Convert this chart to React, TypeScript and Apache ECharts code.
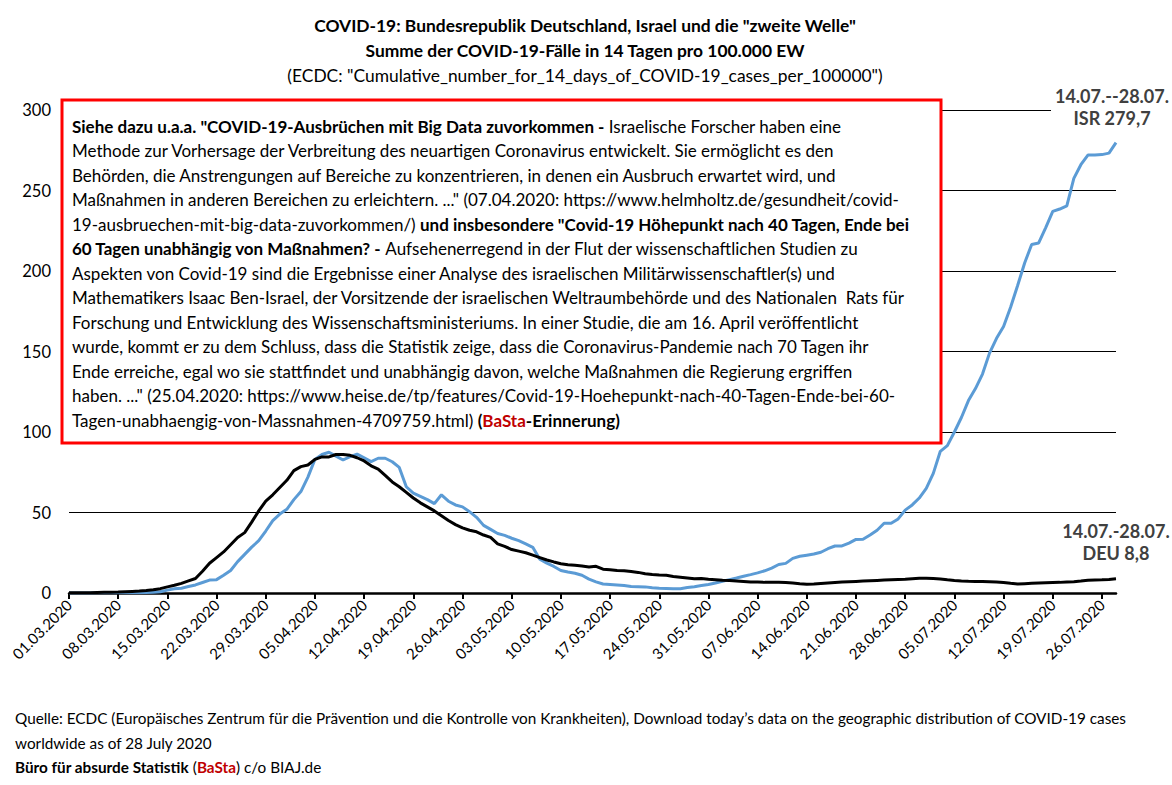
import React, { useEffect, useRef } from "react";
import * as echarts from "echarts";

const ISR = [
  0, 0, 0, 0, 0.1, 0.1, 0.1, 0.1, 0.1, 0.2,
  0.2, 0.3, 0.5, 0.8, 1.8, 2.6, 3.0, 4.0, 5.0, 6.5,
  8.0, 8.3, 11.0, 14.0, 19.5, 24.0, 28.5, 32.5, 38.5, 45.0,
  49.0, 52.0, 58.0, 63.0, 72.0, 83.0, 86.0, 87.4, 85.0, 82.6,
  84.7, 86.3, 84.0, 81.6, 83.7, 83.7, 81.5, 78.0, 66.0, 62.0,
  60.0, 58.0, 55.5, 61.0, 57.0, 54.7, 53.5, 50.5, 47.0, 42.0,
  39.5, 37.0, 35.8, 34.0, 32.5, 30.5, 28.4, 21.0, 18.5, 16.5,
  14.0, 13.0, 12.3, 11.0, 8.6, 6.9, 5.6, 5.3, 5.0, 4.6,
  4.0, 3.9, 3.8, 3.2, 2.9, 2.8, 2.7, 2.7, 3.4, 3.9,
  4.6, 5.3, 6.2, 7.3, 8.3, 9.3, 10.4, 11.4, 12.5, 13.8,
  15.5, 17.7, 18.4, 21.5, 22.8, 23.5, 24.2, 25.3, 27.5, 29.2,
  29.2, 31.0, 33.3, 33.4, 36.0, 39.0, 43.3, 43.3, 46.0, 51.5,
  54.7, 59.0, 65.0, 74.3, 88.0, 91.5, 100.0, 109.0, 119.5, 127.0,
  136.0, 149.0, 158.2, 165.5, 177.5, 191.0, 205.0, 216.5, 217.4, 227.0,
  237.0, 238.5, 240.5, 257.5, 266.0, 272.0, 272.0, 272.3, 273.2, 279.7,
];

const DEU = [
  0.1, 0.1, 0.2, 0.2, 0.3, 0.4, 0.5, 0.6, 0.8, 1.0,
  1.2, 1.5, 2.0, 2.7, 3.8, 4.8, 6.0, 7.5, 9.0, 13.5,
  18.5, 22.0, 25.5, 30.0, 34.5, 37.5, 44.0, 51.0, 57.0, 61.0,
  65.5, 70.0, 76.0, 78.5, 79.5, 83.0, 84.5, 84.5, 86.0, 86.0,
  85.5, 84.0, 82.0, 79.0, 77.0, 73.0, 69.0, 66.0, 62.5, 59.0,
  56.0, 53.5, 51.0, 48.0, 45.0, 42.5, 40.5, 39.0, 38.0, 36.0,
  34.5, 30.5, 29.0, 27.0, 26.0, 25.0, 23.5, 22.0, 20.5, 19.3,
  18.2, 17.6, 17.2, 16.8, 16.2, 16.6, 14.8, 14.5, 14.0, 13.8,
  13.3, 12.8, 12.0, 11.5, 11.2, 11.0, 10.3, 9.8, 9.3, 8.8,
  9.0, 8.5, 8.3, 7.9, 7.7, 7.5, 7.2, 6.8, 6.8, 6.6,
  6.6, 6.6, 6.5, 6.2, 5.8, 5.5, 5.6, 5.9, 6.2, 6.5,
  6.8, 7.0, 7.2, 7.4, 7.6, 7.8, 8.0, 8.2, 8.4, 8.6,
  8.9, 9.2, 9.2, 9.0, 8.7, 8.2, 7.8, 7.5, 7.3, 7.2,
  7.1, 7.0, 6.9, 6.5, 6.0, 5.6, 5.8, 6.0, 6.2, 6.4,
  6.5, 6.6, 6.8, 7.0, 7.4, 7.9, 8.1, 8.2, 8.4, 8.8,
];

const DAY_COUNT = 150;
const DATES: string[] = [];
for (let i = 0; i < DAY_COUNT; i++) {
  const d = new Date(Date.UTC(2020, 2, 1) + i * 86400000);
  const dd = String(d.getUTCDate()).padStart(2, "0");
  const mm = String(d.getUTCMonth() + 1).padStart(2, "0");
  DATES.push(`${dd}.${mm}.${d.getUTCFullYear()}`);
}

const TITLE_LINES = [
  'COVID-19: Bundesrepublik Deutschland, Israel und die "zweite Welle"',
  "Summe der COVID-19-Fälle in 14 Tagen pro 100.000 EW",
  '(ECDC: "Cumulative_number_for_14_days_of_COVID-19_cases_per_100000")',
];

const BOX_LINES = [
  '{b|Siehe dazu u.a.a. "COVID-19-Ausbrüchen mit Big Data zuvorkommen -} Israelische Forscher haben eine',
  "Methode zur Vorhersage der Verbreitung des neuartigen Coronavirus entwickelt. Sie ermöglicht es den",
  "Behörden, die Anstrengungen auf Bereiche zu konzentrieren, in denen ein Ausbruch erwartet wird, und",
  'Maßnahmen in anderen Bereichen zu erleichtern. ..." (07.04.2020: https://www.helmholtz.de/gesundheit/covid-',
  '19-ausbruechen-mit-big-data-zuvorkommen/) {b|und insbesondere "Covid-19 Höhepunkt nach 40 Tagen, Ende bei}',
  "{b|60 Tagen unabhängig von Maßnahmen? -} Aufsehenerregend in der Flut der wissenschaftlichen Studien zu",
  "Aspekten von Covid-19 sind die Ergebnisse einer Analyse des israelischen Militärwissenschaftler(s) und",
  "Mathematikers Isaac Ben-Israel, der Vorsitzende der israelischen Weltraumbehörde und des Nationalen  Rats für",
  "Forschung und Entwicklung des Wissenschaftsministeriums. In einer Studie, die am 16. April veröffentlicht",
  "wurde, kommt er zu dem Schluss, dass die Statistik zeige, dass die Coronavirus-Pandemie nach 70 Tagen ihr",
  "Ende erreiche, egal wo sie stattfindet und unabhängig davon, welche Maßnahmen die Regierung ergriffen",
  'haben. ..." (25.04.2020: https://www.heise.de/tp/features/Covid-19-Hoehepunkt-nach-40-Tagen-Ende-bei-60-',
  "Tagen-unabhaengig-von-Massnahmen-4709759.html) {b|(}{r|BaSta}{b|-Erinnerung)}",
];

const FOOTER_LINES = [
  "Quelle: ECDC (Europäisches Zentrum für die Prävention und die Kontrolle von Krankheiten), Download today’s data on the geographic distribution of COVID-19 cases",
  "worldwide as of 28 July 2020",
  "{b|Büro für absurde Statistik} ({r|BaSta}) c/o BIAJ.de",
];

const ISR_LABEL = ["14.07.--28.07.", "ISR 279,7"];
const DEU_LABEL = ["14.07.-28.07.", "DEU 8,8"];

const FONT = "Lato, Carlito, 'Open Sans', sans-serif";

function makeRich(fs: number) {
  return {
    b: { fontFamily: FONT, fontSize: fs, fontWeight: "bold", fill: "#000", color: "#000" },
    r: { fontFamily: FONT, fontSize: fs, fontWeight: "bold", fill: "#C00000", color: "#C00000" },
  };
}

export default function App() {
  const ref = useRef<HTMLDivElement>(null);

  useEffect(() => {
    document.body.style.margin = "0";
    if (!ref.current) return;
    const chart = echarts.init(ref.current, undefined, { renderer: "svg" });
    const boxFs = 17;
    const footFs = 15.3;
    const graphic: any[] = [];
    TITLE_LINES.forEach((t, i) => {
      graphic.push({
        type: "text",
        x: 585,
        y: 25 + i * 25,
        z: 20,
        style: {
          text: t,
          fontFamily: FONT,
          fontSize: 17.4,
          fontWeight: i < 2 ? "bold" : "normal",
          fill: "#000",
          align: "center",
          verticalAlign: "middle",
        },
      });
    });
    graphic.push({
      type: "rect",
      z: 10,
      shape: { x: 62, y: 100, width: 879, height: 343 },
      style: { fill: "#fff", stroke: "#FF0000", lineWidth: 3 },
    });
    BOX_LINES.forEach((t, i) => {
      graphic.push({
        type: "text",
        x: 72,
        y: 126 + i * 24.5,
        z: 20,
        style: {
          text: t,
          rich: makeRich(boxFs),
          fontFamily: FONT,
          fontSize: boxFs,
          fill: "#000",
          align: "left",
          verticalAlign: "middle",
        },
      });
    });
    FOOTER_LINES.forEach((t, i) => {
      graphic.push({
        type: "text",
        x: 15,
        y: 718 + i * 24.5,
        z: 20,
        style: {
          text: t,
          rich: makeRich(footFs),
          fontFamily: FONT,
          fontSize: footFs,
          fill: "#000",
          align: "left",
          verticalAlign: "middle",
        },
      });
    });
    graphic.push({
      type: "rect",
      z: 10,
      shape: { x: 1051, y: 84, width: 121, height: 46 },
      style: { fill: "#fff" },
    });
    ISR_LABEL.forEach((t, i) => {
      graphic.push({
        type: "text",
        x: 1112,
        y: 96 + i * 22,
        z: 20,
        style: {
          text: t,
          fontFamily: FONT,
          fontSize: 18,
          fontWeight: "bold",
          fill: "#404040",
          align: "center",
          verticalAlign: "middle",
        },
      });
    });
    DEU_LABEL.forEach((t, i) => {
      graphic.push({
        type: "text",
        x: 1116,
        y: 531 + i * 22,
        z: 20,
        style: {
          text: t,
          fontFamily: FONT,
          fontSize: 18,
          fontWeight: "bold",
          fill: "#404040",
          align: "center",
          verticalAlign: "middle",
        },
      });
    });

    chart.setOption({
      animation: false,
      grid: { left: 69, right: 56, top: 110, bottom: 192, containLabel: false },
      xAxis: {
        type: "category",
        data: DATES,
        boundaryGap: false,
        axisLine: { lineStyle: { color: "#000", width: 2.5 } },
        axisTick: { interval: 6, length: 6, lineStyle: { color: "#000", width: 2 } },
        axisLabel: {
          interval: 6,
          rotate: 45,
          margin: 9,
          fontFamily: FONT,
          fontSize: 15,
          color: "#000",
        },
        splitLine: { show: false },
      },
      yAxis: {
        type: "value",
        min: 0,
        max: 300,
        interval: 50,
        axisLine: { show: false },
        axisTick: { show: false },
        axisLabel: { fontFamily: FONT, fontSize: 16.5, color: "#000", margin: 18 },
        splitLine: { lineStyle: { color: "#000", width: 1 } },
      },
      series: [
        {
          type: "line",
          name: "ISR",
          data: ISR,
          symbol: "none",
          lineStyle: { color: "#5B9BD5", width: 3 },
          z: 2,
        },
        {
          type: "line",
          name: "DEU",
          data: DEU,
          symbol: "none",
          lineStyle: { color: "#000", width: 3 },
          z: 3,
        },
      ],
      graphic,
    });
    return () => chart.dispose();
  }, []);

  return (
    <div
      ref={ref}
      style={{ position: "absolute", left: 0, top: 0, width: 1172, height: 785, background: "#fff" }}
    />
  );
}
